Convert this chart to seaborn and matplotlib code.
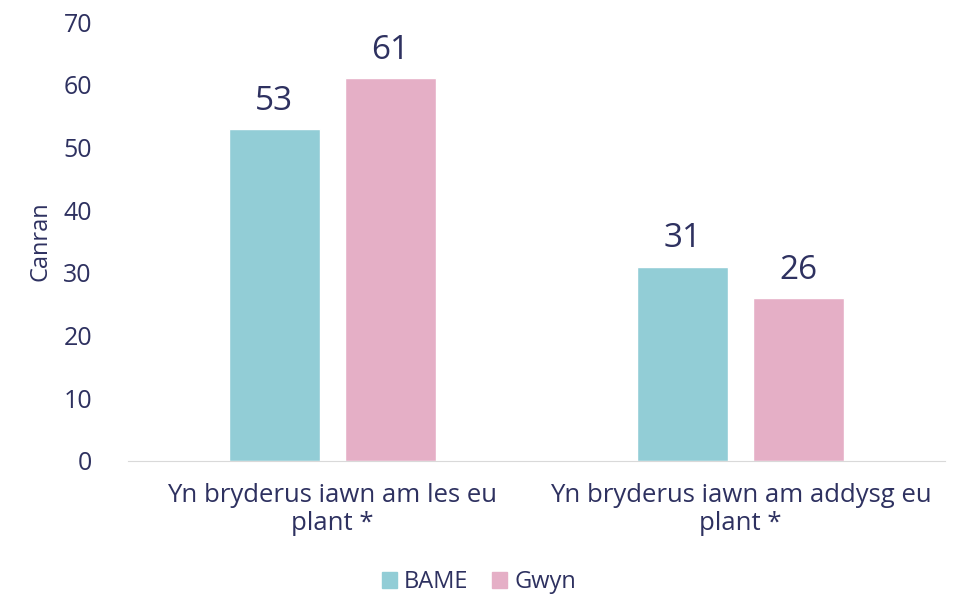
import pandas as pd
import seaborn as sns
import matplotlib.pyplot as plt
from matplotlib.patches import Patch

#--Data
categories = ['Yn bryderus iawn am les eu\nplant *', 'Yn bryderus iawn am addysg eu\nplant *']
groups = ['BAME', 'Gwyn']
bame = [53, 31]
gwyn = [61, 26]

df = pd.DataFrame({
    'cat': categories * 2,
    'group': ['BAME'] * 2 + ['Gwyn'] * 2,
    'val': bame + gwyn,
})

txt = '#2E3160'
palette = {'BAME': '#92CDD6', 'Gwyn': '#E5AFC6'}

sns.set_style('white')
plt.rcParams['font.family'] = ['Open Sans', 'DejaVu Sans']

fig = plt.figure(figsize=(9.58, 5.99), dpi=100)
ax = fig.add_axes([128 / 958, 1 - 461 / 599, 817 / 958, 439 / 599])

sns.barplot(data=df, x='cat', y='val', hue='group', palette=palette,
            width=0.568, gap=0.215, ax=ax, legend=False, saturation=1)

for c in ax.containers:
    ax.bar_label(c, fmt='%d', padding=8, fontsize=24, color=txt)

ax.set_ylim(0, 70)
ax.set_xlim(-0.5, 1.5)
ax.set_yticks(range(0, 71, 10))
ax.set_xlabel('')
ax.set_ylabel('Canran', fontsize=17, color=txt, labelpad=8)
ax.tick_params(axis='y', labelsize=18, colors=txt, length=0, pad=26)
ax.tick_params(axis='x', labelsize=18.5, colors=txt, length=0, pad=16)
for t in ax.get_xticklabels():
    t.set_linespacing(1.15)
sns.despine(ax=ax, left=True)
ax.spines['bottom'].set_color('#D9D9D9')

handles = [Patch(color=palette[g], label=g) for g in groups]
fig.legend(handles=handles, loc='center', bbox_to_anchor=(0.5, 1 - 582 / 599),
           ncol=2, frameon=False, fontsize=17, handlelength=0.65, handleheight=0.65,
           handletextpad=0.3, columnspacing=1.0, labelcolor=txt)

plt.savefig('out.png', dpi=100)
